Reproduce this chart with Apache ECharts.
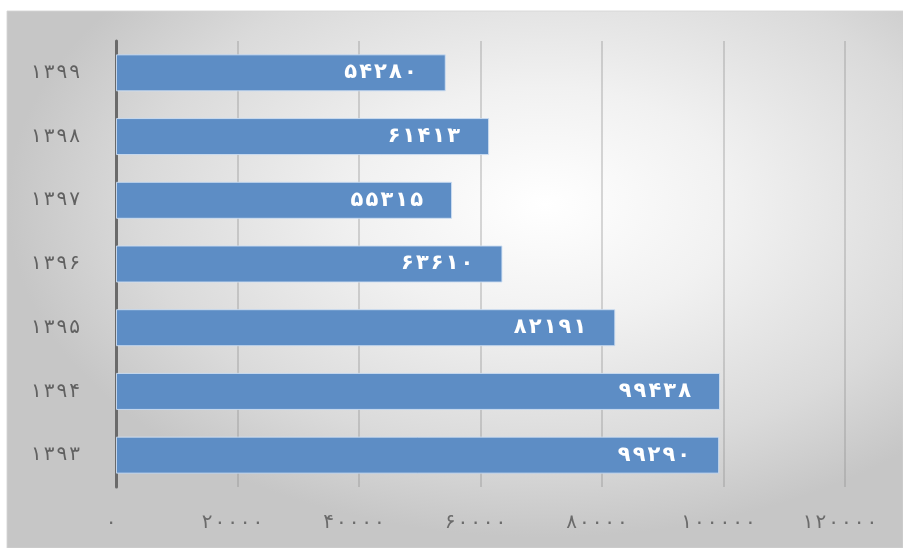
<!DOCTYPE html>
<html>
<head>
<meta charset="utf-8">
<script src="https://cdn.jsdelivr.net/npm/echarts@6/dist/echarts.min.js"></script>
<style>html,body{margin:0;padding:0;background:#fff;}#c{width:903px;height:548px;}</style>
</head>
<body>
<div id="c"></div>
<script>
// Data (bottom to top)
var categories = ['۱۳۹۳', '۱۳۹۴', '۱۳۹۵', '۱۳۹۶', '۱۳۹۷', '۱۳۹۸', '۱۳۹۹'];
var values = [99290, 99438, 82191, 63610, 55315, 61413, 54280];
var xTickValues = [0, 20000, 40000, 60000, 80000, 100000, 120000];

var FA = '۰۱۲۳۴۵۶۷۸۹';
function toFa(n, sep) {
  var s = String(n).replace(/[0-9]/g, function (c) { return FA[+c]; });
  return sep ? s.split('').join(sep) : s;
}
function spaced(s, sep) { return s.split('').join(sep); }

var SY = 0.62;
var chart = echarts.init(document.getElementById('c'));
chart.setOption({
  backgroundColor: '#ffffff',
  animation: false,
  graphic: [{
    type: 'rect',
    z: -10,
    silent: true,
    scaleY: SY,
    shape: { x: 7, y: 11 / SY, width: 896, height: 537 / SY },
    style: {
      fill: new echarts.graphic.RadialGradient(0.6, 0.36, 0.62, [
        { offset: 0, color: '#ffffff' },
        { offset: 0.35, color: '#f1f1f1' },
        { offset: 0.75, color: '#dadada' },
        { offset: 1, color: '#c6c6c6' }
      ]),
      stroke: '#d4d4d4',
      lineWidth: 1
    }
  }],
  grid: { left: 116, right: 58, top: 41, bottom: 61, containLabel: false },
  xAxis: {
    type: 'value',
    min: 0,
    max: 120000,
    interval: 20000,
    axisLine: { show: false },
    axisTick: { show: false },
    splitLine: { show: true, lineStyle: { color: 'rgba(140,140,140,0.45)', width: 1.5 } },
    axisLabel: {
      margin: 26,
      padding: [0, 10, 0, 0],
      color: '#6b6b6b',
      fontFamily: 'DejaVu Sans',
      fontSize: 20,
      formatter: function (v) { return toFa(v, '\u200A'); }
    }
  },
  yAxis: {
    type: 'category',
    data: categories,
    axisLine: { show: true, lineStyle: { color: '#6a6a6a', width: 3 } },
    axisTick: { show: false },
    axisLabel: {
      margin: 36,
      color: '#616161',
      fontFamily: 'DejaVu Sans',
      fontSize: 20,
      formatter: function (v) { return spaced(v, '\u200A'); }
    }
  },
  series: [{
    type: 'bar',
    data: values,
    barWidth: 37,
    itemStyle: {
      color: '#5d8dc5',
      borderColor: 'rgba(205,222,242,0.9)',
      borderWidth: 1
    },
    label: {
      show: true,
      position: 'insideRight',
      distance: 29,
      color: '#ffffff',
      fontWeight: 'bold',
      fontFamily: 'DejaVu Sans',
      fontSize: 21,
      formatter: function (p) { return toFa(p.value, '\u200A'); }
    }
  }]
});
</script>
</body>
</html>
